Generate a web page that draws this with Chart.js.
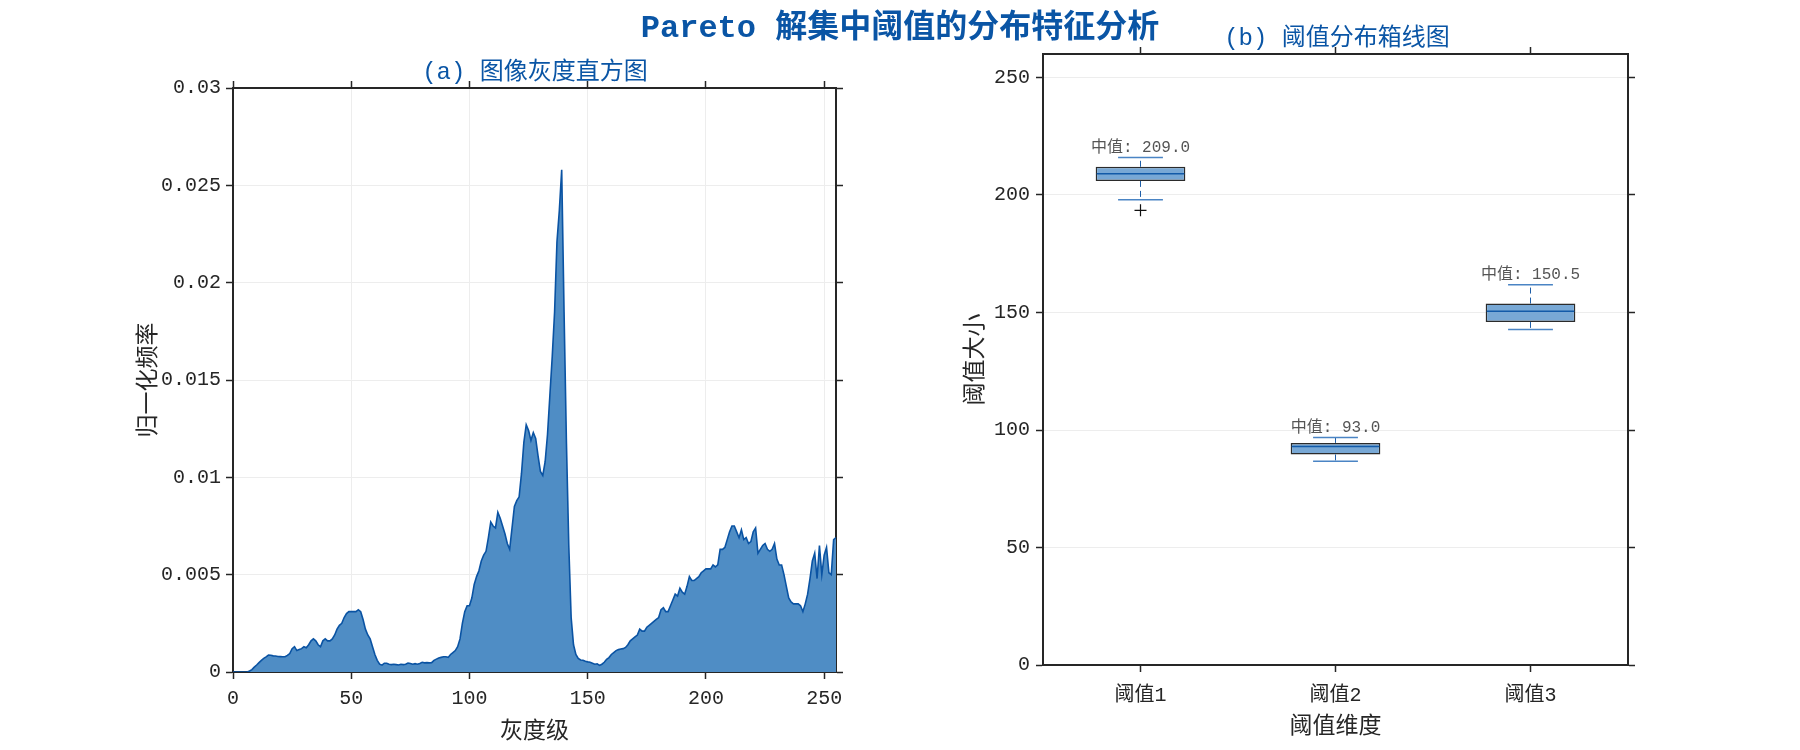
<!DOCTYPE html>
<html>
<head>
<meta charset="utf-8">
<script src="https://cdn.jsdelivr.net/npm/chart.js@4.4.1/dist/chart.umd.min.js"></script>
<style>
  body { margin: 0; width: 1800px; height: 750px; background: #fff; position: relative; overflow: hidden;
         font-family: 'Liberation Mono', 'Noto Sans CJK SC', monospace; }
  .wrap { position: absolute; top: 0; width: 900px; height: 750px; }
  .txt { position: absolute; transform: translate(-50%, -50%); white-space: nowrap; color: #0a55a5; line-height: 1; }
  #mainTitle { left: 900px; top: 29px; font-size: 32px; font-weight: bold; }
  #subA { left: 535px; top: 73px; font-size: 24px; }
  #subB { left: 1337px; top: 39px; font-size: 24px; }
</style>
</head>
<body>
<div class="wrap" style="left:0"><canvas id="histChart" width="900" height="750"></canvas></div>
<div class="wrap" style="left:900px"><canvas id="boxChart" width="900" height="750"></canvas></div>
<div class="txt" id="mainTitle">Pareto 解集中阈值的分布特征分析</div>
<div class="txt" id="subA">(a) 图像灰度直方图</div>
<div class="txt" id="subB">(b) 阈值分布箱线图</div>
<script>
// normalised grey-level histogram, levels 0..255
const histFreq = [
  0, 0, 0, 0, 0, 0, 0, 0.00005, 0.00012, 0.00025, 0.00036, 0.00048, 0.0006, 0.0007, 0.00078, 0.00087,
  0.00086, 0.00083, 0.00082, 0.0008, 0.00079, 0.00078, 0.00078, 0.00085, 0.00095, 0.0012, 0.0013, 0.0011, 0.00115, 0.0012, 0.0013, 0.00125,
  0.0014, 0.0016, 0.0017, 0.0016, 0.0014, 0.0013, 0.0016, 0.0017, 0.0016, 0.0016, 0.0017, 0.0019, 0.0022, 0.0024, 0.0025, 0.0028,
  0.003, 0.0031, 0.0031, 0.0031, 0.0031, 0.0032, 0.0031, 0.0027, 0.0022, 0.0019, 0.0017, 0.0013, 0.0009, 0.0006, 0.0004, 0.00035,
  0.00045, 0.00045, 0.0004, 0.00038, 0.0004, 0.00038, 0.00036, 0.0004, 0.00038, 0.0004, 0.00046, 0.00044, 0.0004, 0.00043, 0.0004, 0.00044,
  0.0005, 0.00047, 0.00048, 0.00047, 0.00048, 0.0006, 0.00066, 0.00072, 0.00075, 0.00078, 0.00078, 0.00075, 0.0009, 0.001, 0.0011, 0.0013,
  0.0017, 0.0025, 0.0031, 0.0034, 0.0034, 0.0038, 0.0045, 0.0049, 0.0052, 0.0057, 0.006, 0.0062, 0.0069, 0.0077, 0.0075, 0.0074,
  0.0082, 0.0079, 0.0075, 0.0071, 0.0066, 0.0063, 0.0074, 0.0085, 0.0088, 0.009, 0.0102, 0.0118, 0.0127, 0.0124, 0.0119, 0.0123,
  0.012, 0.0111, 0.0103, 0.0101, 0.0108, 0.0122, 0.0142, 0.0162, 0.0185, 0.0221, 0.0237, 0.0258, 0.0185, 0.0118, 0.0065, 0.0028,
  0.0014, 0.0009, 0.0007, 0.00062, 0.0006, 0.00055, 0.00052, 0.0005, 0.00045, 0.0004, 0.00042, 0.00034, 0.0004, 0.0005, 0.00065, 0.00074,
  0.0009, 0.001, 0.0011, 0.00115, 0.00118, 0.0012, 0.00126, 0.0014, 0.0016, 0.0017, 0.0018, 0.0019, 0.0022, 0.0021, 0.0021, 0.0023,
  0.0024, 0.0025, 0.0026, 0.0027, 0.0028, 0.0032, 0.0033, 0.0031, 0.0031, 0.0034, 0.0037, 0.004, 0.0039, 0.0043, 0.0041, 0.004,
  0.0044, 0.0049, 0.0047, 0.0047, 0.0048, 0.0049, 0.0051, 0.0052, 0.0053, 0.0053, 0.0053, 0.0055, 0.0054, 0.0055, 0.0063, 0.0063,
  0.0064, 0.0068, 0.0072, 0.0075, 0.0075, 0.0072, 0.0069, 0.0073, 0.0068, 0.0069, 0.0066, 0.0067, 0.0072, 0.0074, 0.0061, 0.0063,
  0.0065, 0.0066, 0.0063, 0.0062, 0.0063, 0.0066, 0.0058, 0.0055, 0.0055, 0.005, 0.0044, 0.0038, 0.0036, 0.0035, 0.0035, 0.0035,
  0.0034, 0.0031, 0.0035, 0.004, 0.0048, 0.0057, 0.0061, 0.0048, 0.0065, 0.005, 0.006, 0.0064, 0.0051, 0.005, 0.0068, 0.0069
];
const grayLevels = histFreq.map((_, i) => i);

// threshold box plot stats
const thresholdNames = ['阈值1', '阈值2', '阈值3'];
const q1 = [206.0, 89.6, 146.0];
const q3 = [212.0, 94.5, 153.8];
const medians = [209.0, 93.0, 150.5];
const whiskerLow = [198.0, 86.7, 142.8];
const whiskerHigh = [216.0, 96.8, 161.8];
const outliers = [[193.5], [], []];

const AXIS = '#262626';
const GRID = '#ededed';
const FONT = "'Liberation Mono', 'Noto Sans CJK SC', monospace";
Chart.defaults.font.family = FONT;
Chart.defaults.color = AXIS;

function axisBorder() {
    return { color: AXIS, width: 2 };
}

function sideScale(type, position, extra) {
    return Object.assign({
        type: type,
        position: position,
        ticks: { display: false },
        grid: { drawOnChartArea: false, tickLength: 7, tickColor: AXIS, tickWidth: 1.5 },
        border: axisBorder()
    }, extra);
}

// ---------- (a) histogram ----------
new Chart(document.getElementById('histChart'), {
    type: 'line',
    data: {
        datasets: [{
            data: grayLevels.map((g, i) => ({ x: g, y: histFreq[i] })),
            borderColor: '#0a53a3',
            backgroundColor: '#4f8dc5',
            borderWidth: 1.6,
            fill: 'origin',
            pointRadius: 0,
            tension: 0
        }]
    },
    options: {
        responsive: false,
        animation: false,
        layout: { padding: { left: 131, right: 56, top: 80, bottom: 0 } },
        plugins: { legend: { display: false }, tooltip: { enabled: false } },
        scales: {
            x: {
                type: 'linear', min: 0, max: 255,
                ticks: { stepSize: 50, includeBounds: false, font: { size: 20 }, padding: 8, maxRotation: 0 },
                grid: { color: GRID, tickLength: 7, tickColor: AXIS, tickWidth: 1.5 },
                border: axisBorder(),
                title: { display: true, text: '灰度级', font: { size: 23 } },
                afterFit: s => { s.height = 78; }
            },
            x2: sideScale('linear', 'top', {
                min: 0, max: 255,
                ticks: { display: false, stepSize: 50, includeBounds: false },
                afterFit: s => { s.height = 8; }
            }),
            y: {
                min: 0, max: 0.03,
                ticks: {
                    stepSize: 0.005, font: { size: 20 }, padding: 5,
                    callback: v => String(Number(v.toFixed(3)))
                },
                grid: { color: GRID, tickLength: 7, tickColor: AXIS, tickWidth: 1.5 },
                border: axisBorder(),
                title: { display: true, text: '归一化频率', font: { size: 23 } },
                afterFit: s => { s.width = 102; }
            },
            y2: sideScale('linear', 'right', {
                min: 0, max: 0.03,
                ticks: { display: false, stepSize: 0.005 },
                afterFit: s => { s.width = 8; }
            })
        }
    }
});

// ---------- (b) box plot ----------
const boxExtras = {
    id: 'boxExtras',
    afterDatasetsDraw(chart) {
        const ctx = chart.ctx;
        const ys = chart.scales.y;
        const meta = chart.getDatasetMeta(0);
        ctx.save();
        meta.data.forEach((bar, i) => {
            const cx = bar.x;
            const half = bar.width / 2;
            const capHalf = half / 2;
            const yq1 = ys.getPixelForValue(q1[i]);
            const yq3 = ys.getPixelForValue(q3[i]);
            const yLo = ys.getPixelForValue(whiskerLow[i]);
            const yHi = ys.getPixelForValue(whiskerHigh[i]);
            const yMed = ys.getPixelForValue(medians[i]);

            // whiskers
            ctx.strokeStyle = '#1f5fa8';
            ctx.lineWidth = 1;
            ctx.setLineDash([6, 4]);
            ctx.beginPath();
            ctx.moveTo(cx, yq3); ctx.lineTo(cx, yHi);
            ctx.moveTo(cx, yq1); ctx.lineTo(cx, yLo);
            ctx.stroke();
            ctx.setLineDash([]);

            // caps
            ctx.strokeStyle = '#4a84c4';
            ctx.lineWidth = 1.5;
            ctx.beginPath();
            ctx.moveTo(cx - capHalf, yHi); ctx.lineTo(cx + capHalf, yHi);
            ctx.moveTo(cx - capHalf, yLo); ctx.lineTo(cx + capHalf, yLo);
            ctx.stroke();

            // median
            ctx.strokeStyle = '#125aa8';
            ctx.lineWidth = 1.5;
            ctx.beginPath();
            ctx.moveTo(cx - half + 1, yMed); ctx.lineTo(cx + half - 1, yMed);
            ctx.stroke();

            // outliers
            ctx.strokeStyle = '#111';
            ctx.lineWidth = 1.2;
            outliers[i].forEach(v => {
                const py = ys.getPixelForValue(v);
                ctx.beginPath();
                ctx.moveTo(cx - 6, py); ctx.lineTo(cx + 6, py);
                ctx.moveTo(cx, py - 6); ctx.lineTo(cx, py + 6);
                ctx.stroke();
            });

            // median label
            ctx.fillStyle = '#555';
            ctx.font = '16px ' + FONT;
            ctx.textAlign = 'center';
            ctx.textBaseline = 'bottom';
            ctx.fillText('中值: ' + medians[i].toFixed(1), cx, yHi - 2);
        });
        ctx.restore();
    }
};

new Chart(document.getElementById('boxChart'), {
    type: 'bar',
    data: {
        labels: thresholdNames,
        datasets: [{
            data: thresholdNames.map((_, i) => [q1[i], q3[i]]),
            backgroundColor: '#78a8d5',
            borderColor: '#2b2b2b',
            borderWidth: 1.5,
            borderSkipped: false,
            barPercentage: 0.46,
            categoryPercentage: 1
        }]
    },
    options: {
        responsive: false,
        animation: false,
        layout: { padding: { left: 58, right: 164, top: 46, bottom: 5 } },
        plugins: { legend: { display: false }, tooltip: { enabled: false } },
        scales: {
            x: {
                offset: true,
                ticks: { font: { size: 20 }, padding: 12 },
                grid: { offset: false, drawOnChartArea: false, tickLength: 7, tickColor: AXIS, tickWidth: 1.5 },
                border: axisBorder(),
                title: { display: true, text: '阈值维度', font: { size: 23 } },
                afterFit: s => { s.height = 80; }
            },
            x2: sideScale('category', 'top', {
                offset: true,
                grid: { offset: false, drawOnChartArea: false, tickLength: 7, tickColor: AXIS, tickWidth: 1.5 },
                afterFit: s => { s.height = 8; }
            }),
            y: {
                min: 0, max: 260,
                ticks: { stepSize: 50, includeBounds: false, font: { size: 20 }, padding: 6 },
                grid: { color: GRID, tickLength: 7, tickColor: AXIS, tickWidth: 1.5 },
                border: axisBorder(),
                title: { display: true, text: '阈值大小', font: { size: 23 } },
                afterFit: s => { s.width = 85; }
            },
            y2: sideScale('linear', 'right', {
                min: 0, max: 260,
                ticks: { display: false, stepSize: 50, includeBounds: false },
                afterFit: s => { s.width = 8; }
            })
        }
    },
    plugins: [boxExtras]
});
</script>
</body>
</html>
